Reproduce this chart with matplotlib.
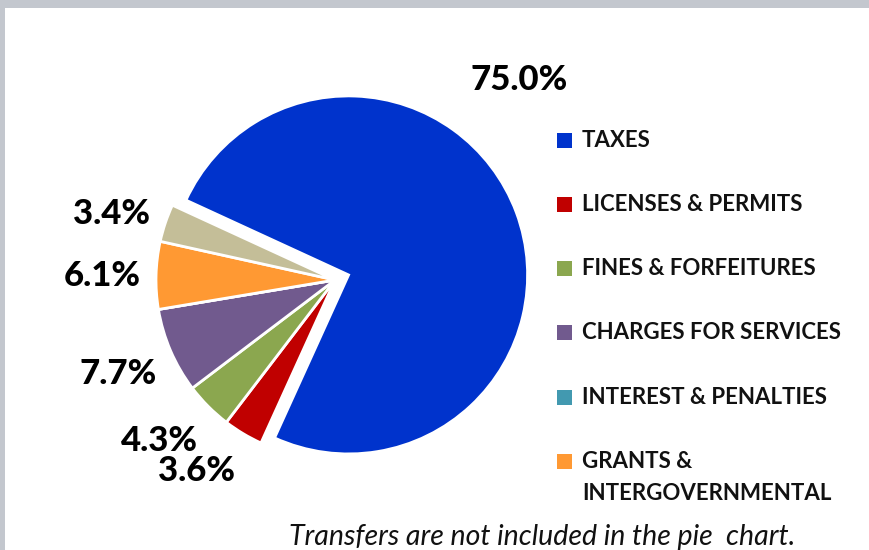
import matplotlib
matplotlib.use("Agg")
import numpy as np
import matplotlib.pyplot as plt
from matplotlib.patches import Rectangle

# revenue shares (percent) by source
categories = ["TAXES", "LICENSES & PERMITS", "FINES & FORFEITURES",
              "CHARGES FOR SERVICES", "INTEREST & PENALTIES",
              "GRANTS &\nINTERGOVERNMENTAL", "OTHER"]
shares = [75.0, 3.6, 4.3, 7.7, 0.0, 6.1, 3.4]
pct_labels = ["75.0%", "3.6%", "4.3%", "7.7%", "", "6.1%", "3.4%"]
colors = ["#0033CC", "#C00000", "#8BA74F", "#715A8E", "#4299B0", "#FF9933", "#C4BE98"]
n_legend = 6  # "other" slice is not in the legend
note = "Transfers are not included in the pie  chart."

FONT = "Lato"
W, H = 870, 550

fig = plt.figure(figsize=(W / 100, H / 100), dpi=100)
fig.patch.set_facecolor("#c3c7ce")
ax = fig.add_axes([0, 0, 1, 1])

# white panel over the grey backdrop
ax.add_patch(Rectangle((5, 0), W - 5, H - 8, facecolor="white", edgecolor="none", zorder=0))

cx, cy, r = 335, 270, 179
explode = [14.5, 0, 0, 0, 0, 0, 0]
wedges, _ = ax.pie(shares, colors=colors, startangle=155.3, counterclock=False,
                   center=(cx, cy), radius=r, explode=explode, frame=True,
                   wedgeprops=dict(edgecolor="white", linewidth=2))

ax.set_xlim(0, W)
ax.set_ylim(0, H)
ax.set_aspect("equal")
ax.axis("off")

# percentage labels: nudge angle (deg) and distance (in radii)
lab_nudge = [27, -5, -2.5, 0, 0, 0.5, 2]
lab_dist = [1.52, 1.32, 1.33, 1.32, 1.3, 1.3, 1.3]
for w, txt, da, dist in zip(wedges, pct_labels, lab_nudge, lab_dist):
    if not txt:
        continue
    th = np.deg2rad((w.theta1 + w.theta2) / 2 + da)
    ax.text(cx + dist * r * np.cos(th), cy + dist * r * np.sin(th), txt,
            ha="center", va="center", fontsize=25, fontweight="black", family=FONT)

# legend
leg_x, leg_top, leg_step, sq = 557, 410, 64.3, 15
for i in range(n_legend):
    y = leg_top - i * leg_step
    ax.add_patch(Rectangle((leg_x, y - sq / 2), sq, sq, facecolor=colors[i], edgecolor="none"))
    for k, line in enumerate(categories[i].split("\n")):
        ax.text(leg_x + 25, y - k * 32, line, ha="left", va="center",
                fontsize=16, fontweight="bold", family=FONT, color="#111111")

ax.text(542, 13, note, ha="center", va="center", fontsize=20.5,
        style="italic", family=FONT, color="#111111")

fig.savefig("out.png", dpi=100, facecolor=fig.get_facecolor())
